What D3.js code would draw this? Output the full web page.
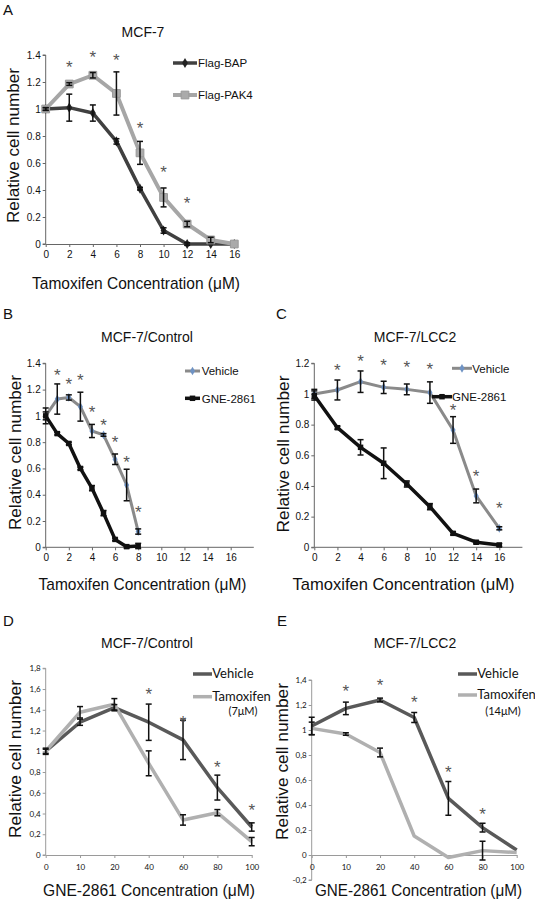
<!DOCTYPE html>
<html><head><meta charset="utf-8">
<script src="https://cdn.jsdelivr.net/npm/d3@7"></script>
<style>
html,body{margin:0;padding:0;background:#fff;}
svg{display:block;}
</style></head>
<body>
<script>
// ---------- DATA ----------
// Panel A
const aX = [0,2,4,6,8,10,12,14,16];
const aBAP = [1.0,1.01,0.97,0.76,0.41,0.10,0.0,0.0,0.0];
const aBAPErr = [0.01,0.10,0.06,0.02,0.01,0.02,0.01,0.0,0.0];
const aPAK4 = [1.0,1.185,1.25,1.115,0.675,0.345,0.148,0.03,0.0];
const aPAK4Err = [0.01,0.01,0.02,0.16,0.085,0.07,0.02,0.02,0.0];
const aStarX = [2,4,6,8,10,12];
const aStarY = [1.34,1.41,1.39,0.89,0.56,0.33];
const aYTicks = [0,0.2,0.4,0.6,0.8,1,1.2,1.4];
const aXTicks = [0,2,4,6,8,10,12,14,16];

// Panel B
const bX = [0,1,2,3,4,5,6,7,8];
const bVehicle = [1.0,1.128,1.14,1.07,0.885,0.855,0.67,0.474,0.12];
const bVehicleErr = [0.06,0.115,0.02,0.11,0.05,0.01,0.04,0.12,0.02];
const bGNE = [1.0,0.865,0.79,0.60,0.45,0.26,0.06,0.005,0.01];
const bGNEErr = [0.03,0.01,0.01,0.01,0.02,0.02,0.01,0.01,0.02];
const bStarX = [1,2,3,4,5,6,7,8];
const bStarY = [1.34,1.27,1.30,1.06,0.96,0.83,0.68,0.30];
const bYTicks = [0,0.2,0.4,0.6,0.8,1,1.2,1.4];
const bXTicks = [0,2,4,6,8,10,12,14,16];

// Panel C
const cX = [0,2,4,6,8,10,12,14,16];
const cVehicle = [1.0,1.026,1.08,1.043,1.03,1.009,0.765,0.335,0.124];
const cVehicleErr = [0.03,0.065,0.07,0.04,0.035,0.07,0.087,0.045,0.01];
const cGNE = [0.99,0.78,0.652,0.548,0.413,0.265,0.091,0.033,0.015];
const cGNEErr = [0.03,0.01,0.05,0.10,0.02,0.02,0.01,0.01,0.01];
const cStarX = [2,4,6,8,10,12,14,16];
const cStarY = [1.18,1.24,1.21,1.20,1.185,0.92,0.49,0.28];
const cYTicks = [0,0.2,0.4,0.6,0.8,1,1.2];
const cXTicks = [0,2,4,6,8,10,12,14,16];

// Panel D
const dX = ["0","10","20","40","60","80","100"];
const dVehicle = [1.0,1.28,1.42,1.28,1.11,0.65,0.27];
const dVehicleErr = [0.03,0.03,0.03,0.175,0.19,0.12,0.04];
const dTam = [1.0,1.376,1.453,0.884,0.338,0.408,0.129];
const dTamErr = [0.02,0.055,0.055,0.12,0.05,0.03,0.04];
const dStarX = ["40","60","80","100"];
const dStarY = [1.59,1.32,0.88,0.47];
const dYTicks = [0,0.2,0.4,0.6,0.8,1,1.2,1.4,1.6,1.8];

// Panel E
const eX = ["0","10","20","40","60","80","100"];
const eVehicle = [1.032,1.173,1.24,1.10,0.453,0.219,0.04];
const eVehicleErr = [0.07,0.05,0.015,0.04,0.135,0.035,0.0];
const eTam = [1.013,0.968,0.82,0.152,-0.02,0.035,0.02];
const eTamErr = [0.05,0.01,0.035,0.0,0.0,0.075,0.0];
const eStarX = ["10","20","40","60","80"];
const eStarY = [1.34,1.39,1.25,0.69,0.355];
const eYTicks = [-0.2,0,0.2,0.4,0.6,0.8,1,1.2,1.4];

// ---------- DRAWING ----------
const W = 535, H = 905;
const svg = d3.select("body").append("svg").attr("width", W).attr("height", H);
const NARROW = "'Liberation Sans Narrow','Arial Narrow','Liberation Sans',Arial,sans-serif";
const ARIAL = "'Liberation Sans',Arial,sans-serif";
const CAL = "Lato,'Open Sans',sans-serif";

function fmtDot(v){ return String(+v.toFixed(1)); }
function fmtComma(v){ return String(+v.toFixed(1)).replace(".", ","); }

function panel(cfg){
  const g = svg.append("g");
  const x = cfg.x, y = cfg.y;
  g.append("text").attr("x", cfg.letterPos[0]).attr("y", cfg.letterPos[1])
    .attr("font-family", ARIAL).attr("font-size", 15).attr("fill", "#111").text(cfg.letter);
  g.append("text").attr("x", cfg.titlePos[0]).attr("y", cfg.titlePos[1]).attr("text-anchor", "middle")
    .attr("font-family", ARIAL).attr("font-size", 14).attr("fill", "#111").text(cfg.title);
  g.append("text").attr("x", cfg.xTitlePos[0]).attr("y", cfg.xTitlePos[1]).attr("text-anchor", "middle")
    .attr("font-family", ARIAL).attr("font-size", cfg.xTitleSize || 17).attr("fill", "#111")
    .attr("textLength", cfg.xTitleLen).attr("lengthAdjust", "spacingAndGlyphs")
    .text(cfg.xTitle);
  g.append("text").attr("transform", `translate(${cfg.yTitlePos[0]},${cfg.yTitlePos[1]}) rotate(-90)`)
    .attr("text-anchor", "middle")
    .attr("font-family", ARIAL).attr("font-size", 17).attr("fill", "#111")
    .attr("textLength", cfg.yTitleLen).attr("lengthAdjust", "spacingAndGlyphs")
    .text("Relative cell number");

  const yAxis = d3.axisLeft(y).tickValues(cfg.yTicks).tickSize(3).tickPadding(2).tickFormat(cfg.yFmt);
  const ya = g.append("g").attr("transform", `translate(${cfg.xAxisX},0)`).call(yAxis);
  const xAxis = (cfg.xType === "band" ? d3.axisBottom(x) : d3.axisBottom(x).tickValues(cfg.xTicks))
    .tickSize(3).tickPadding(cfg.xPad).tickSizeOuter(0);
  const xa = g.append("g").attr("transform", `translate(0,${cfg.xAxisY})`).call(xAxis);
  [ya, xa].forEach(a => {
    a.select(".domain").attr("stroke", cfg.axisColor).attr("stroke-width", 1);
    a.selectAll(".tick line").attr("stroke", cfg.axisColor);
    a.selectAll("text").attr("font-family", cfg.tickFont).attr("font-size", cfg.tickSize).attr("fill", "#111");
  });
  if (cfg.xDomainEnd !== undefined) {
    xa.select(".domain").attr("d", `M${cfg.xAxisX},0H${cfg.xDomainEnd}`);
  }
  ya.select(".domain").attr("d", `M-3,${y(cfg.yTicks[cfg.yTicks.length-1])}H0V${y(cfg.yTicks[0])}H-3`);

  cfg.series.forEach(s => {
    const pts = cfg.xs.map((xv, i) => ({x: xv, y: s.vals[i], e: s.err[i]}));
    const px = d => x(d.x);
    g.append("path").datum(pts)
      .attr("fill", "none").attr("stroke", s.color).attr("stroke-width", s.width)
      .attr("stroke-linejoin", "round")
      .attr("d", d3.line().x(px).y(d => y(d.y)));
    if (s.marker) {
      const sym = d3.symbol().type(s.marker === "square" ? d3.symbolSquare : d3.symbolDiamond).size(s.msize);
      g.selectAll(null).data(pts).enter().append("path")
        .attr("transform", d => `translate(${px(d)},${y(d.y)})`)
        .attr("d", sym).attr("fill", s.mfill).attr("stroke", s.mstroke || "none").attr("stroke-width", 1);
    }
    s.pts = pts; s.px = px;
  });
  cfg.series.forEach(s => {
    s.pts.filter(d => d.e > 0.005).forEach(d => {
      const cx = s.px(d), y1 = y(d.y + d.e), y2 = y(d.y - d.e);
      const eb = g.append("g").attr("stroke", "#111").attr("stroke-width", 1.5);
      eb.append("line").attr("x1", cx).attr("x2", cx).attr("y1", y1).attr("y2", y2);
      eb.append("line").attr("x1", cx-3).attr("x2", cx+3).attr("y1", y1).attr("y2", y1);
      eb.append("line").attr("x1", cx-3).attr("x2", cx+3).attr("y1", y2).attr("y2", y2);
    });
  });
  cfg.starX.forEach((sx, i) => {
    g.append("text").attr("x", x(sx)).attr("y", y(cfg.starY[i]) + 9.7).attr("text-anchor", "middle")
      .attr("font-family", ARIAL).attr("font-size", 17).attr("fill", "#555").text("*");
  });
  cfg.legend.forEach(l => {
    const s = cfg.series[l.i];
    g.append("line").attr("x1", l.x1).attr("x2", l.x2).attr("y1", l.y).attr("y2", l.y)
      .attr("stroke", s.color).attr("stroke-width", s.width);
    if (s.marker) {
      const sym = d3.symbol().type(s.marker === "square" ? d3.symbolSquare : d3.symbolDiamond).size(s.msize);
      g.append("path").attr("transform", `translate(${(l.x1+l.x2)/2},${l.y})`).attr("d", sym)
        .attr("fill", s.mfill).attr("stroke", s.mstroke || "none");
    }
    g.append("text").attr("x", l.tx).attr("y", l.y + 4.2)
      .attr("font-family", cfg.legendFont).attr("font-size", cfg.legendSize).attr("fill", "#111").text(s.name);
    if (l.sub) {
      g.append("text").attr("x", l.sub[1]).attr("y", l.sub[2]).attr("text-anchor", "middle")
        .attr("font-family", cfg.legendFont).attr("font-size", 11).attr("fill", "#111").text(l.sub[0]);
    }
  });
}

panel({
  letter: "A", letterPos: [3, 15], title: "MCF-7", titlePos: [143, 37],
  x: d3.scaleLinear().domain([0,16]).range([45.7,234.3]),
  y: d3.scaleLinear().domain([0,1.4]).range([244,55]),
  xAxisX: 45.7, xAxisY: 244, xTicks: aXTicks, yTicks: aYTicks, xPad: 4,
  yFmt: fmtDot, tickFont: NARROW, tickSize: 10, axisColor: "#666",
  xTitle: "Tamoxifen Concentration (\u03bcM)", xTitlePos: [136, 289], xTitleLen: 208,
  yTitlePos: [19, 145.5], yTitleLen: 155,
  xs: aX,
  series: [
    {name: "Flag-BAP", vals: aBAP, err: aBAPErr, color: "#404040", width: 3.5, marker: "diamond", msize: 30, mfill: "#222"},
    {name: "Flag-PAK4", vals: aPAK4, err: aPAK4Err, color: "#a6a6a6", width: 4, marker: "square", msize: 60, mfill: "#aaa", mstroke: "#999"}
  ],
  starX: aStarX, starY: aStarY,
  legend: [{i:0, x1:173, x2:197, y:63, tx:198}, {i:1, x1:173, x2:197, y:95, tx:198}],
  legendFont: ARIAL, legendSize: 11.5
});

panel({
  letter: "B", letterPos: [3, 319], title: "MCF-7/Control", titlePos: [147, 342],
  x: d3.scaleLinear().domain([0,16]).range([45.7,230.7]),
  y: d3.scaleLinear().domain([0,1.4]).range([547.3,363.3]),
  xAxisX: 45.7, xAxisY: 547.3, xTicks: bXTicks, yTicks: bYTicks, xPad: 4, xDomainEnd: 253.8,
  yFmt: fmtDot, tickFont: NARROW, tickSize: 10, axisColor: "#666",
  xTitle: "Tamoxifen Concentration (\u03bcM)", xTitlePos: [142.5, 590], xTitleLen: 208,
  yTitlePos: [21, 452.5], yTitleLen: 155,
  xs: bX,
  series: [
    {name: "Vehicle", vals: bVehicle, err: bVehicleErr, color: "#8a8a8a", width: 3, marker: "diamond", msize: 22, mfill: "#6f93c4"},
    {name: "GNE-2861", vals: bGNE, err: bGNEErr, color: "#111", width: 3.5, marker: "square", msize: 30, mfill: "#111"}
  ],
  starX: bStarX, starY: bStarY,
  legend: [{i:0, x1:185, x2:200, y:371, tx:201.7}, {i:1, x1:185, x2:200, y:398.3, tx:201.7}],
  legendFont: ARIAL, legendSize: 11.5
});

panel({
  letter: "C", letterPos: [276, 319], title: "MCF-7/LCC2", titlePos: [415, 342],
  x: d3.scaleLinear().domain([0,16]).range([314.3,499.3]),
  y: d3.scaleLinear().domain([0,1.2]).range([547.3,363.3]),
  xAxisX: 314.3, xAxisY: 547.3, xTicks: cXTicks, yTicks: cYTicks, xPad: 4, xDomainEnd: 522.4,
  yFmt: fmtDot, tickFont: NARROW, tickSize: 10, axisColor: "#666",
  xTitle: "Tamoxifen Concentration (\u03bcM)", xTitlePos: [403.5, 590], xTitleLen: 222,
  yTitlePos: [289, 454], yTitleLen: 157,
  xs: cX,
  series: [
    {name: "Vehicle", vals: cVehicle, err: cVehicleErr, color: "#8a8a8a", width: 3, marker: "diamond", msize: 22, mfill: "#6f93c4"},
    {name: "GNE-2861", vals: cGNE, err: cGNEErr, color: "#111", width: 3.5, marker: "square", msize: 30, mfill: "#111"}
  ],
  starX: cStarX, starY: cStarY,
  legend: [{i:0, x1:452, x2:472, y:368.3, tx:472.3}, {i:1, x1:432, x2:452, y:396.7, tx:452}],
  legendFont: ARIAL, legendSize: 11.5
});

panel({
  letter: "D", letterPos: [3, 626], title: "MCF-7/Control", titlePos: [147, 648],
  x: d3.scalePoint().domain(dX).range([45.7,251.7]),
  y: d3.scaleLinear().domain([0,1.8]).range([855,668.3]),
  xType: "band", xAxisX: 45.7, xAxisY: 855, yTicks: dYTicks, xPad: 6,
  yFmt: fmtComma, tickFont: CAL, tickSize: 8, axisColor: "#9a9a9a",
  xTitle: "GNE-2861 Concentration (\u03bcM)", xTitlePos: [149, 896], xTitleLen: 212, xTitleSize: 16,
  yTitlePos: [21, 759], yTitleLen: 158,
  xs: dX,
  series: [
    {name: "Vehicle", vals: dVehicle, err: dVehicleErr, color: "#595959", width: 3.5},
    {name: "Tamoxifen", vals: dTam, err: dTamErr, color: "#b0b0b0", width: 3.5}
  ],
  starX: dStarX, starY: dStarY,
  legend: [{i:0, x1:193, x2:212, y:674, tx:212.3}, {i:1, x1:193, x2:212, y:696.7, tx:212.3, sub:["(7\u03bcM)", 243, 715]}],
  legendFont: CAL, legendSize: 13
});

panel({
  letter: "E", letterPos: [277, 626], title: "MCF-7/LCC2", titlePos: [415, 648],
  x: d3.scalePoint().domain(eX).range([311.7,516.7]),
  y: d3.scaleLinear().domain([-0.2,1.4]).range([880,680]),
  xType: "band", xAxisX: 311.7, xAxisY: 855, yTicks: eYTicks, xPad: 6,
  yFmt: fmtComma, tickFont: CAL, tickSize: 8, axisColor: "#9a9a9a",
  xTitle: "GNE-2861 Concentration (\u03bcM)", xTitlePos: [418.5, 896], xTitleLen: 207, xTitleSize: 16,
  yTitlePos: [288, 761.5], yTitleLen: 157,
  xs: eX,
  series: [
    {name: "Vehicle", vals: eVehicle, err: eVehicleErr, color: "#595959", width: 3.5},
    {name: "Tamoxifen", vals: eTam, err: eTamErr, color: "#b0b0b0", width: 3.5}
  ],
  starX: eStarX, starY: eStarY,
  legend: [{i:0, x1:458, x2:477, y:674, tx:477.3}, {i:1, x1:458, x2:477, y:695, tx:477.3, sub:["(14\u03bcM)", 503, 715]}],
  legendFont: CAL, legendSize: 13
});
</script>
</body></html>
